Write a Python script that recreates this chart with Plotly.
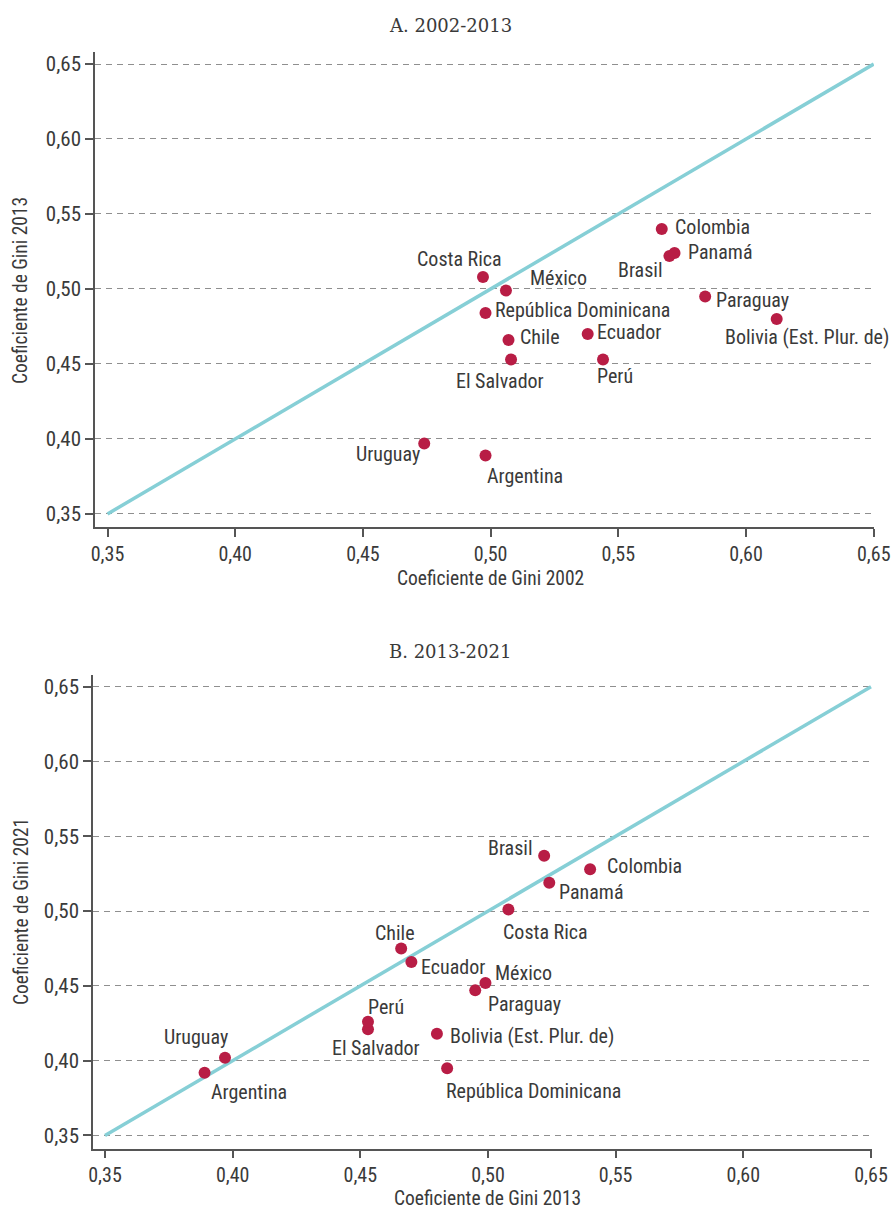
import plotly.graph_objects as go

# Gini coefficients by country
countries = ["Argentina", "Bolivia (Est. Plur. de)", "Brasil", "Chile", "Colombia",
             "Costa Rica", "Ecuador", "El Salvador", "México", "Panamá",
             "Paraguay", "Perú", "República Dominicana", "Uruguay"]
gini_2002 = [0.498, 0.612, 0.570, 0.507, 0.567, 0.497, 0.538, 0.508, 0.506, 0.572,
             0.584, 0.544, 0.498, 0.474]
gini_2013 = [0.389, 0.480, 0.522, 0.466, 0.540, 0.508, 0.470, 0.453, 0.499, 0.524,
             0.495, 0.453, 0.484, 0.397]
gini_2021 = [0.392, 0.418, 0.537, 0.475, 0.528, 0.501, 0.466, 0.421, 0.452, 0.519,
             0.447, 0.426, 0.395, 0.402]

tick_vals = [0.35, 0.40, 0.45, 0.50, 0.55, 0.60, 0.65]
tick_text = ["0,35", "0,40", "0,45", "0,50", "0,55", "0,60", "0,65"]

W, H = 893, 1209
SANS = "Liberation Sans Narrow, Roboto Condensed, Liberation Sans, Arial, sans-serif"
SERIF = "DejaVu Serif, Liberation Serif, serif"
TXT = "#3a3a3a"
DOT = "#B81D45"
DIAG = "#86CFD6"
AXC = "#555555"


def px_x(p):
    return p / W


def px_y(p):
    return 1 - p / H


# label placement: (xanchor, xshift, yshift) in pixels relative to the dot
offsets_a = {
    "Argentina": ("left", -1, -21),
    "Bolivia (Est. Plur. de)": ("center", 30, -18),
    "Brasil": ("right", -4, -14),
    "Chile": ("left", 9, 3),
    "Colombia": ("left", 11, 2),
    "Costa Rica": ("center", -23, 18),
    "Ecuador": ("left", 7, 2),
    "El Salvador": ("center", -11, -22),
    "México": ("left", 22, 12),
    "Panamá": ("left", 11, 1),
    "Paraguay": ("left", 9, -4),
    "Perú": ("center", 12, -17),
    "República Dominicana": ("left", 7, 3),
    "Uruguay": ("right", -2, -11),
}
offsets_b = {
    "Argentina": ("left", 4, -19),
    "Bolivia (Est. Plur. de)": ("left", 11, -2),
    "Brasil": ("right", -9, 8),
    "Chile": ("center", -6, 15),
    "Colombia": ("left", 15, 3),
    "Costa Rica": ("center", 37, -22),
    "Ecuador": ("left", 8, -5),
    "El Salvador": ("center", 8, -19),
    "México": ("left", 8, 10),
    "Panamá": ("left", 8, -9),
    "Paraguay": ("left", 11, -14),
    "Perú": ("center", 18, 15),
    "República Dominicana": ("left", -3, -23),
    "Uruguay": ("center", -29, 21),
}

fig = go.Figure()

panels = [
    # (xaxis, yaxis, x data, y data, offsets)
    ("x", "y", gini_2002, gini_2013, offsets_a),
    ("x2", "y2", gini_2013, gini_2021, offsets_b),
]

annotations = []
for xa, ya, xs, ys, offs in panels:
    fig.add_trace(go.Scatter(x=[0.35, 0.65], y=[0.35, 0.65], mode="lines",
                             line=dict(color=DIAG, width=3.5), xaxis=xa, yaxis=ya,
                             hoverinfo="skip", showlegend=False))
    fig.add_trace(go.Scatter(x=xs, y=ys, mode="markers", text=countries,
                             marker=dict(color=DOT, size=12), xaxis=xa, yaxis=ya,
                             showlegend=False))
    for name, xv, yv in zip(countries, xs, ys):
        anchor, dx, dy = offs[name]
        annotations.append(dict(x=xv, y=yv, xref=xa, yref=ya, text=name,
                                showarrow=False, xanchor=anchor, yanchor="middle",
                                xshift=dx, yshift=dy,
                                font=dict(family=SANS, size=20, color=TXT)))

# panel titles
annotations.append(dict(x=px_x(450), y=px_y(26), xref="paper", yref="paper",
                        text="A. 2002-2013", showarrow=False, xanchor="center",
                        yanchor="middle", font=dict(family=SERIF, size=18, color=TXT)))
annotations.append(dict(x=px_x(450), y=px_y(651), xref="paper", yref="paper",
                        text="B. 2013-2021", showarrow=False, xanchor="center",
                        yanchor="middle", font=dict(family=SERIF, size=18, color=TXT)))

# axis titles
axis_titles = [
    (px_x(490), px_y(578), 0, "Coeficiente de Gini 2002"),
    (px_x(21), px_y(291), -90, "Coeficiente de Gini 2013"),
    (px_x(488), px_y(1198), 0, "Coeficiente de Gini 2013"),
    (px_x(21), px_y(912), -90, "Coeficiente de Gini 2021"),
]
for ax, ay, ang, t in axis_titles:
    annotations.append(dict(x=ax, y=ay, xref="paper", yref="paper", text=t,
                            showarrow=False, xanchor="center", yanchor="middle",
                            textangle=ang,
                            font=dict(family=SANS, size=19.5, color=TXT)))

xaxis_common = dict(tickvals=tick_vals, ticktext=tick_text, showgrid=False,
                    zeroline=False, showline=True, linecolor=AXC, linewidth=1.5,
                    ticks="outside", ticklen=8, tickwidth=1.5, tickcolor=AXC,
                    automargin=False,
                    tickfont=dict(family=SANS, size=20, color=TXT), fixedrange=True)
yaxis_common = dict(tickvals=tick_vals, ticktext=tick_text, showgrid=True,
                    gridcolor="#8f8f8f", gridwidth=1, griddash="6px,5px",
                    zeroline=False, showline=True, linecolor=AXC, linewidth=1.5,
                    ticks="outside", ticklen=8, tickwidth=1.5, tickcolor=AXC,
                    automargin=False,
                    tickfont=dict(family=SANS, size=21, color=TXT), fixedrange=True)

fig.update_layout(
    width=W, height=H,
    margin=dict(l=0, r=0, t=0, b=0, autoexpand=False),
    paper_bgcolor="white", plot_bgcolor="white",
    annotations=annotations,
    xaxis=dict(xaxis_common, domain=[px_x(95), px_x(874)], range=[0.3451, 0.6501],
               anchor="y"),
    yaxis=dict(yaxis_common, domain=[px_y(527), px_y(52)], range=[0.3413, 0.658],
               anchor="x"),
    xaxis2=dict(xaxis_common, domain=[px_x(93), px_x(872)], range=[0.3453, 0.6504],
                anchor="y2"),
    yaxis2=dict(yaxis_common, domain=[px_y(1148.5), px_y(675)], range=[0.3413, 0.6578],
                anchor="x2"),
)

fig.write_html("out.html")
